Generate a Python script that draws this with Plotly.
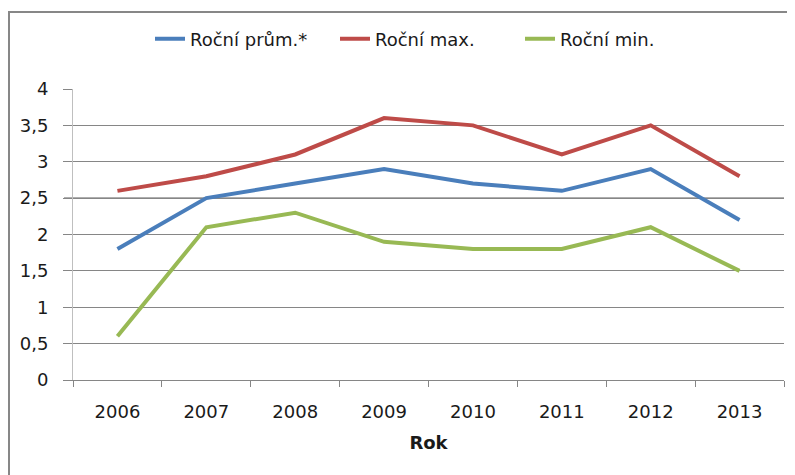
import plotly.graph_objects as go

years = ["2006", "2007", "2008", "2009", "2010", "2011", "2012", "2013"]
prumer = [1.8, 2.5, 2.7, 2.9, 2.7, 2.6, 2.9, 2.2]
maximum = [2.6, 2.8, 3.1, 3.6, 3.5, 3.1, 3.5, 2.8]
minimum = [0.6, 2.1, 2.3, 1.9, 1.8, 1.8, 2.1, 1.5]
y_ticks = [0, 0.5, 1, 1.5, 2, 2.5, 3, 3.5, 4]
y_tick_labels = ["0", "0,5", "1", "1,5", "2", "2,5", "3", "3,5", "4"]

FONT = "'DejaVu Sans', sans-serif"

fig = go.Figure()
fig.add_trace(go.Scatter(x=years, y=prumer, mode="lines", name="Roční prům.*",
                         line=dict(color="#4A7EBB", width=4)))
fig.add_trace(go.Scatter(x=years, y=maximum, mode="lines", name="Roční max.",
                         line=dict(color="#BE4B48", width=4)))
fig.add_trace(go.Scatter(x=years, y=minimum, mode="lines", name="Roční min.",
                         line=dict(color="#98B954", width=4)))

W, H = 795, 475
L, T = 65, 81
pw, ph = 711, 291
R = W - L - pw
B = H - T - ph

fig.update_layout(
    width=W, height=H,
    margin=dict(l=L, r=R, t=T, b=B, autoexpand=False),
    paper_bgcolor="white", plot_bgcolor="white",
    font=dict(family=FONT, size=18, color="#1a1a1a"),
    showlegend=True,
    legend=dict(orientation="h", x=142 / W, xref="container", xanchor="left",
                y=1 - 31 / H, yref="container", yanchor="middle",
                font=dict(family=FONT, size=18, color="#1a1a1a"),
                itemwidth=30, tracegroupgap=0,
                entrywidth=140, entrywidthmode="pixels"),
    xaxis=dict(type="category", range=[-0.5, 7.5], showgrid=False, showline=True,
               linecolor="#868686", linewidth=1, ticks="outside", tickson="boundaries",
               ticklen=6, tickcolor="#868686", tickfont=dict(size=18),
               ticklabelstandoff=15, automargin=False,
               title=dict(text="<b>Rok</b>", font=dict(size=18), standoff=15)),
    yaxis=dict(range=[0, 4], tickvals=y_ticks, ticktext=y_tick_labels,
               showgrid=True, gridcolor="#868686", gridwidth=1,
               showline=True, linecolor="#BFBFBF", linewidth=1,
               ticks="outside", ticklen=9, tickcolor="#868686",
               tickfont=dict(size=18), zeroline=False,
               ticklabelstandoff=11, automargin=False),
)

# Slightly darker gridline at 2,5 as in the reference
fig.add_shape(type="line", xref="paper", yref="y", x0=-9 / pw, x1=1, y0=2.5, y1=2.5,
              line=dict(color="#5E5E5E", width=1.5), layer="below")

# Outer chart border
fig.add_shape(type="rect", xref="paper", yref="paper",
              x0=(1 - L) / pw, x1=(W + 10 - L) / pw,
              y0=-(B + 10) / ph, y1=(ph + T - 4) / ph,
              line=dict(color="#878787", width=2), fillcolor="rgba(0,0,0,0)",
              layer="below")

fig.write_html("out.html")
